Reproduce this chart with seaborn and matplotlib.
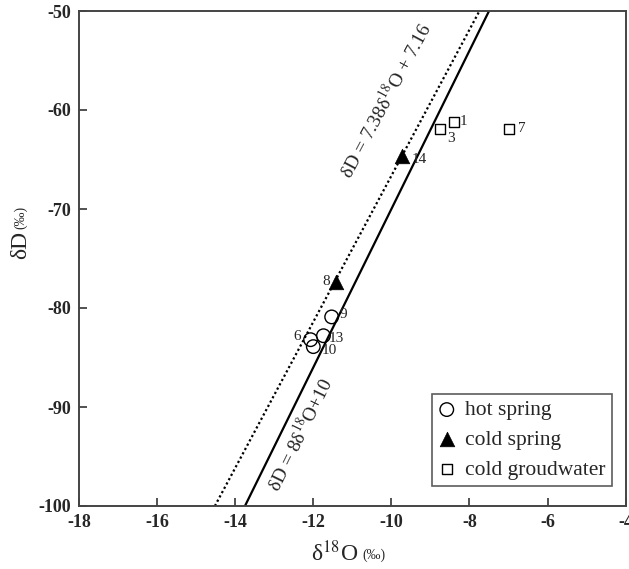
import numpy as np
import pandas as pd
import matplotlib
matplotlib.use("Agg")
import matplotlib.pyplot as plt
import seaborn as sns

# ---- data ----
hot_x = [-11.53, -12.07, -11.74, -12.00]
hot_y = [-80.9, -83.2, -82.8, -83.9]
hot_ids = ["9", "6", "13", "10"]

cold_x = [-9.74, -11.42]
cold_y = [-64.6, -77.4]
cold_ids = ["14", "8"]

gw_x = [-8.40, -8.76, -6.98]
gw_y = [-61.2, -61.9, -61.9]
gw_ids = ["1", "3", "7"]

# meteoric water lines: slope, intercept
gmwl = (8.0, 10.0)
lmwl = (7.38, 7.16)

xticks = [-18, -16, -14, -12, -10, -8, -6, -4]
yticks = [-100, -90, -80, -70, -60, -50]

# ---- style ----
sns.set_style("ticks")
plt.rcParams["font.family"] = ["Liberation Serif", "DejaVu Serif"]
plt.rcParams["mathtext.fontset"] = "stix"

fig = plt.figure(figsize=(6.29, 5.69), dpi=100)
W, H = 629, 569
ax = fig.add_axes([79 / W, 1 - 506 / H, (625.7 - 79) / W, (506 - 11) / H])
ax.set_xlim(-18, -4)
ax.set_ylim(-100, -50)

# lines
def line_pts(m, b):
    ys = np.array([-100.0, -50.0])
    xs = (ys - b) / m
    return xs, ys

xs, ys = line_pts(*lmwl)
sns.lineplot(x=xs, y=ys, ax=ax, color="black", linestyle=(0, (1, 1.2)), linewidth=1.6)
xs, ys = line_pts(*gmwl)
sns.lineplot(x=xs, y=ys, ax=ax, color="black", linewidth=1.6)

# points
sns.scatterplot(x=hot_x, y=hot_y, ax=ax, marker="o", s=95, facecolors="none",
                edgecolor="black", linewidth=1.0, label="hot spring", zorder=3)
sns.scatterplot(x=cold_x, y=cold_y, ax=ax, marker="^", s=110, color="black",
                edgecolor="black", linewidth=0.5, label="cold spring", zorder=3)
sns.scatterplot(x=gw_x, y=gw_y, ax=ax, marker="s", s=50, facecolors="none",
                edgecolor="black", linewidth=1.0, label="cold groudwater", zorder=3)

# point labels (offsets in points)
pt = 1 / 1.389
lab_fs = 11
offsets = {
    "9": (8, 2, "left"), "6": (-10, 3, "right"), "13": (5, -3, "left"), "10": (8, -4, "left"),
    "14": (10, -4, "left"), "8": (-6, 1, "right"),
    "1": (6, 0, "left"), "3": (7, -10, "left"), "7": (9, 0, "left"),
}
for xs_, ys_, ids in [(hot_x, hot_y, hot_ids), (cold_x, cold_y, cold_ids), (gw_x, gw_y, gw_ids)]:
    for x, y, t in zip(xs_, ys_, ids):
        dx, dy, ha = offsets[t]
        ax.annotate(t, (x, y), xytext=(dx * pt, dy * pt), textcoords="offset points",
                    ha=ha, va="center", fontsize=lab_fs)

# rotated equation labels
def angle_of(m, b):
    p = ax.transData.transform([((-100 - b) / m, -100), ((-50 - b) / m, -50)])
    return np.degrees(np.arctan2(p[1, 1] - p[0, 1], p[1, 0] - p[0, 0]))

ax.text(-10.16, -59.0, "δD = 7.38δ$^{18}$O + 7.16", rotation=angle_of(*lmwl),
        rotation_mode="anchor", ha="center", va="center", fontsize=14)
ax.text(-12.34, -92.8, "δD = 8δ$^{18}$O+10", rotation=angle_of(*gmwl),
        rotation_mode="anchor", ha="center", va="center", fontsize=14)

# axes styling
ax.set_xticks(xticks)
ax.set_yticks(yticks)
ax.set_xticklabels([str(v) for v in xticks], fontweight="bold", fontsize=13)
ax.set_yticklabels([str(v) for v in yticks], fontweight="bold", fontsize=13)
ax.tick_params(direction="in", length=6, width=1.2, color="#333333", pad=6,
               top=False, right=False)
for s in ax.spines.values():
    s.set_visible(True)
    s.set_linewidth(1.4)
    s.set_color("#444444")
ax.set_xlabel("")
ax.set_ylabel("")

# axis labels
fig.text(358 / W, 1 - 553 / H, "δ$^{18}$O", ha="right", va="center", fontsize=17)
fig.text(362 / W, 1 - 555 / H, "(‰)", ha="left", va="center", fontsize=10)
fig.text(21 / W, 1 - 231 / H, "δD", rotation=90, rotation_mode="anchor",
         ha="right", va="center", fontsize=17)
fig.text(21 / W, 1 - 229 / H, "(‰)", rotation=90, rotation_mode="anchor",
         ha="left", va="center", fontsize=10)

# legend
leg = ax.legend(loc="lower right", bbox_to_anchor=(0.975, 0.04), frameon=True,
                fancybox=False, edgecolor="#333333", fontsize=15.5, handletextpad=0.45,
                borderpad=0.3, labelspacing=0.45, handlelength=0.8,
                borderaxespad=0)
leg.get_frame().set_linewidth(1.2)

fig.savefig("out.png", dpi=100)
